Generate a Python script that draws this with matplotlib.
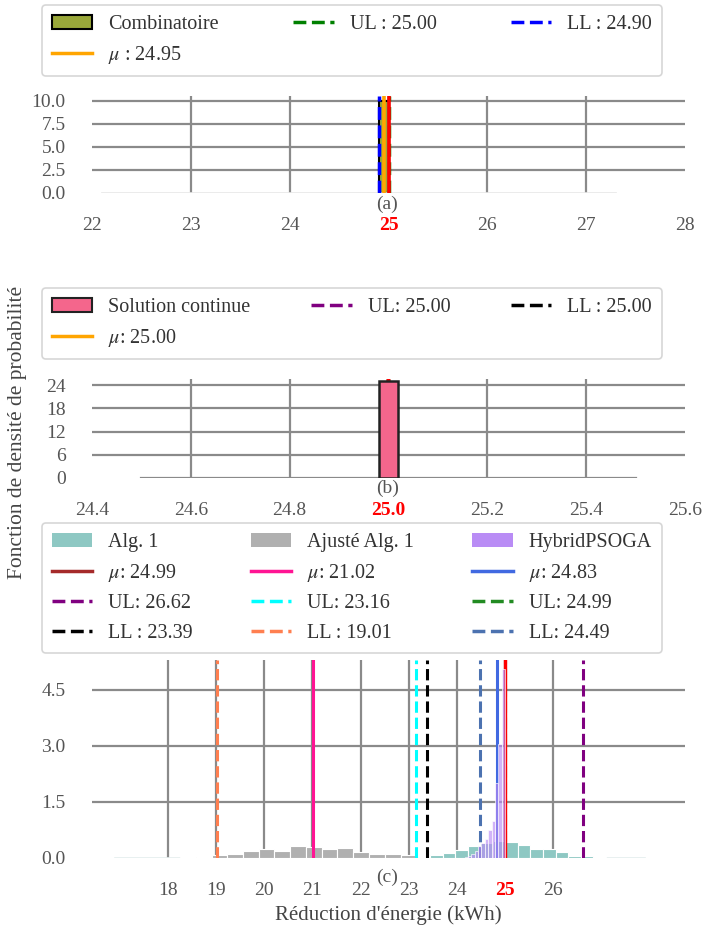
import matplotlib
matplotlib.use('Agg')
import matplotlib.pyplot as plt
from matplotlib.patches import Patch
from matplotlib.lines import Line2D

plt.rcParams['font.family'] = ['Liberation Serif', 'DejaVu Serif']
plt.rcParams['mathtext.fontset'] = 'stix'

# ---------------- data ----------------
target = 25.0

# Panel (a) : Combinatoire
comb_edges = [24.90, 25.00]
comb_density = [10.0]
comb_mu, comb_ul, comb_ll = 24.95, 25.00, 24.90
a_xticks = [22, 23, 24, 25, 26, 27, 28]
a_yticks = [0.0, 2.5, 5.0, 7.5, 10.0]
a_kde_span = [22.1, 27.3]

# Panel (b) : Solution continue
cont_edges = [24.98, 25.02]
cont_density = [25.0]
cont_mu, cont_ul, cont_ll = 25.00, 25.00, 25.00
b_xticks = [24.4, 24.6, 24.8, 25.0, 25.2, 25.4, 25.6]
b_yticks = [0, 6, 12, 18, 24]
b_kde_span = [24.5, 25.5]

# Panel (c)
alg1_edges = [23.19, 23.45, 23.71, 23.97, 24.23, 24.49, 24.75, 25.01, 25.27,
              25.53, 25.79, 26.05, 26.31, 26.57, 26.83, 27.09, 27.35]
alg1_density = [0.03, 0.08, 0.13, 0.22, 0.31, 0.40, 0.45, 0.42, 0.35, 0.25,
                0.25, 0.17, 0.05, 0.05, 0.02, 0.01]
adj_edges = [17.92, 18.25, 18.58, 18.91, 19.23, 19.56, 19.88, 20.21, 20.54,
             20.87, 21.20, 21.52, 21.85, 22.18, 22.51, 22.83, 23.16, 23.49]
adj_density = [0.005, 0.02, 0.04, 0.07, 0.115, 0.18, 0.24, 0.20, 0.33, 0.29,
               0.25, 0.26, 0.17, 0.12, 0.10, 0.07, 0.03]
hyb_edges = [24.16, 24.23, 24.30, 24.37, 24.44, 24.51, 24.58, 24.65, 24.72,
             24.79, 24.86, 24.93, 25.00]
hyb_density = [0.02, 0.06, 0.12, 0.20, 0.31, 0.40, 0.50, 0.75, 0.98, 2.00,
               3.05, 5.05]
alg1_mu, alg1_ul, alg1_ll = 24.99, 26.62, 23.39
adj_mu, adj_ul, adj_ll = 21.02, 23.16, 19.01
hyb_mu, hyb_ul, hyb_ll = 24.83, 24.99, 24.49
c_xticks = [18, 19, 20, 21, 22, 23, 24, 25, 26]
c_yticks = [0.0, 1.5, 3.0, 4.5]
c_kde_span = [16.9, 27.9]

# ---------------- style ----------------
GRID = '#8a8a8a'
TICKC = '#555555'
TXT = '#333333'
FS_TICK = 14
FS_LEG = 14.5

fig = plt.figure(figsize=(7.06, 9.36), dpi=100)
L, R = 92 / 706, 685 / 706


def fy(py):
    return 1 - py / 936


def make_ax(top_px, bot_px):
    return fig.add_axes([L, fy(bot_px), R - L, fy(top_px) - fy(bot_px)])


ax_a = make_ax(96, 193)
ax_b = make_ax(379, 478)
ax_c = make_ax(660, 858)


def style(ax, xticks, yticks, xlim, ylim, xfmt, yfmt, panel, panel_off):
    ax.set_xlim(*xlim)
    ax.set_ylim(*ylim)
    ax.set_xticks(xticks)
    ax.set_yticks(yticks)
    ax.set_xticklabels([xfmt.format(v) for v in xticks])
    ax.set_yticklabels([yfmt.format(v) for v in yticks])
    for s in ax.spines.values():
        s.set_visible(False)
    ax.set_axisbelow(True)
    ax.grid(True, color=GRID, linewidth=1.6)
    ax.tick_params(axis='both', length=0, labelsize=FS_TICK, colors=TICKC)
    ax.tick_params(axis='x', pad=17)
    ax.tick_params(axis='y', pad=19)
    # hide gridlines lying on the axes limits
    for t, v in zip(ax.xaxis.get_major_ticks(), xticks):
        if abs(v - xlim[0]) < 1e-9 or abs(v - xlim[1]) < 1e-9:
            t.gridline.set_visible(False)
    for t, v in zip(ax.yaxis.get_major_ticks(), yticks):
        if abs(v - ylim[0]) < 1e-9:
            t.gridline.set_visible(False)
    for lab, v in zip(ax.get_xticklabels(), xticks):
        if abs(v - target) < 1e-9:
            lab.set_color('red')
            lab.set_fontweight('bold')
    ax.annotate(panel, (0.5, 0), xycoords='axes fraction',
                xytext=(-1, panel_off), textcoords='offset points',
                ha='center', va='top', fontsize=FS_TICK, color=TICKC)


def legend(ax, handles, labels, top_px, bot_px):
    leg = ax.legend(handles, labels, ncol=3, mode='expand',
                    loc='upper left',
                    bbox_to_anchor=(42 / 706, fy(bot_px), 620 / 706,
                                    fy(top_px) - fy(bot_px)),
                    bbox_transform=fig.transFigure, fontsize=FS_LEG,
                    frameon=True, fancybox=True, edgecolor='#cccccc',
                    handlelength=2.0, handletextpad=0.8, labelspacing=0.5,
                    borderaxespad=0, borderpad=0.5)
    for t in leg.get_texts():
        t.set_color(TXT)
    leg.get_frame().set_linewidth(1.2)
    return leg


# ---------------- panel (a) ----------------
ax = ax_a
ax.hist(comb_edges[:-1], bins=comb_edges, weights=comb_density,
        color='#9aa83a', edgecolor='black', linewidth=1.5, zorder=2)
ax.plot(a_kde_span, [0, 0], color='#e8e8e8', lw=1.2, zorder=2)
ax.axvline(comb_ll, color='blue', ls='--', lw=2.5, zorder=3)
ax.axvline(comb_mu, color='orange', lw=2.6, zorder=3)
ax.axvline(comb_ul, color='green', ls='--', lw=2.5, zorder=3)
ax.axvline(target, color='red', lw=2.6, zorder=4)
style(ax, a_xticks, a_yticks, (22, 28), (0, 10.5), '{:g}', '{:.1f}', '(a)', -2)
legend(ax,
       [Patch(facecolor='#9aa83a', edgecolor='black', linewidth=1.5),
        Line2D([], [], color='orange', lw=2.5),
        Line2D([], [], color='green', ls='--', lw=2.5),
        Line2D([], [], color='blue', ls='--', lw=2.5)],
       ['Combinatoire', r'$\mu$ : %.2f' % comb_mu, 'UL : %.2f' % comb_ul,
        'LL : %.2f' % comb_ll], 5, 72)

# ---------------- panel (b) ----------------
ax = ax_b
ax.plot(b_kde_span, [0, 0], color=GRID, lw=1.6, zorder=2)
ax.axvline(cont_mu, color='orange', lw=2.5, zorder=3)
ax.axvline(cont_ul, color='purple', ls='--', lw=2.5, zorder=3)
ax.axvline(cont_ll, color='black', ls='--', lw=2.5, zorder=3)
ax.axvline(target, color='red', lw=2.5, zorder=3)
ax.hist(cont_edges[:-1], bins=cont_edges, weights=cont_density,
        color='#f4668c', edgecolor='#222222', linewidth=1.8, zorder=5)
style(ax, b_xticks, b_yticks, (24.4, 25.6), (0, 25.6), '{:.1f}', '{:g}', '(b)', -1)
legend(ax,
       [Patch(facecolor='#f4668c', edgecolor='#222222', linewidth=1.5),
        Line2D([], [], color='orange', lw=2.5),
        Line2D([], [], color='purple', ls='--', lw=2.5),
        Line2D([], [], color='black', ls='--', lw=2.5)],
       ['Solution continue', r'$\mu$: %.2f' % cont_mu, 'UL: %.2f' % cont_ul,
        'LL : %.2f' % cont_ll], 288, 357)

# ---------------- panel (c) ----------------
ax = ax_c
C_ALG1 = '#8ec8c3'
C_ADJ = '#b0b0b0'
C_HYB = '#b98cf5'
ax.plot(c_kde_span, [0, 0], color='#e4eeee', lw=1.2, zorder=2)
ax.hist(adj_edges[:-1], bins=adj_edges, weights=adj_density, color=C_ADJ,
        edgecolor='white', linewidth=0.8, zorder=2)
ax.hist(alg1_edges[:-1], bins=alg1_edges, weights=alg1_density, color=C_ALG1,
        edgecolor='white', linewidth=0.8, zorder=2)
lines = [
    (alg1_ll, 'black', '--'), (alg1_ul, 'purple', '--'),
    (adj_mu, '#ff1493', '-'), (adj_ul, 'cyan', '--'), (adj_ll, 'coral', '--'),
    (hyb_mu, 'royalblue', '-'), (hyb_ul, 'forestgreen', '--'),
    (hyb_ll, '#4c72b0', '--'), (alg1_mu, 'brown', '-'),
]
for x, c, ls in lines:
    ax.axvline(x, color=c, ls=ls, lw=2.2, zorder=3)
ax.axvline(target, color='red', lw=2.4, zorder=3)
ax.hist(hyb_edges[:-1], bins=hyb_edges, weights=hyb_density, color=C_HYB,
        alpha=0.65, edgecolor='white', linewidth=0.7, zorder=4)
style(ax, c_xticks, c_yticks, (16.42, 28.74), (0, 5.3), '{:g}', '{:.1f}',
      '(c)', -8)
ax.set_xlabel("Réduction d'énergie (kWh)", fontsize=15, color='#444444',
              labelpad=5)
legend(ax,
       [Patch(facecolor=C_ALG1), Line2D([], [], color='brown', lw=2.5),
        Line2D([], [], color='purple', ls='--', lw=2.5),
        Line2D([], [], color='black', ls='--', lw=2.5),
        Patch(facecolor=C_ADJ), Line2D([], [], color='#ff1493', lw=2.5),
        Line2D([], [], color='cyan', ls='--', lw=2.5),
        Line2D([], [], color='coral', ls='--', lw=2.5),
        Patch(facecolor=C_HYB), Line2D([], [], color='royalblue', lw=2.5),
        Line2D([], [], color='forestgreen', ls='--', lw=2.5),
        Line2D([], [], color='#4c72b0', ls='--', lw=2.5)],
       ['Alg. 1', r'$\mu$: %.2f' % alg1_mu, 'UL: %.2f' % alg1_ul,
        'LL : %.2f' % alg1_ll,
        'Ajusté Alg. 1', r'$\mu$: %.2f' % adj_mu, 'UL: %.2f' % adj_ul,
        'LL : %.2f' % adj_ll,
        'HybridPSOGA', r'$\mu$: %.2f' % hyb_mu, 'UL: %.2f' % hyb_ul,
        'LL: %.2f' % hyb_ll], 523, 650)

fig.text(18 / 706, fy(432), 'Fonction de densité de probabilité', rotation=90,
         ha='center', va='center', fontsize=15.5, color='#444444')

fig.savefig('out.png', dpi=100)
